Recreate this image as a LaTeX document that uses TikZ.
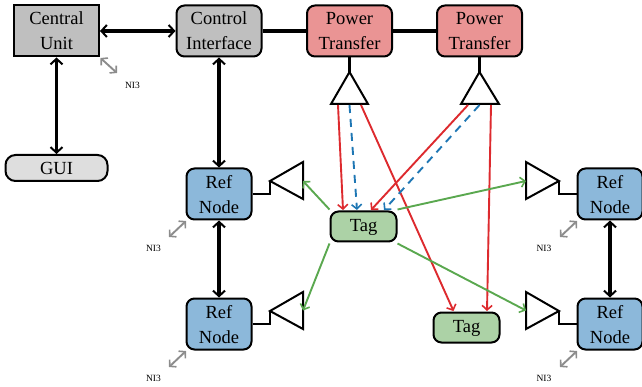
\documentclass[tikz,border=0pt]{standalone}
\usepackage{fontspec}
\usetikzlibrary{arrows.meta}
\setmainfont{Liberation Serif}
\definecolor{cgray}{HTML}{BFBFBF}
\definecolor{cgui}{HTML}{DEDEDE}
\definecolor{cpow}{HTML}{EA9494}
\definecolor{cref}{HTML}{8CB8DA}
\definecolor{ctag}{HTML}{ACD2A6}
\definecolor{lred}{HTML}{DD2A2E}
\definecolor{lblue}{HTML}{1F77B4}
\definecolor{lgreen}{HTML}{5AA84F}
\definecolor{lgray}{HTML}{8C8C8C}
\tikzset{
  x=1pt,y=-1pt,
  tipA/.tip={Straight Barb[length=5.5pt,width=12pt,line width=2pt]},
  tipB/.tip={Straight Barb[length=4.5pt,width=10pt,line width=1.6pt]},
  boxbase/.style={draw=black,line width=2pt,align=center,inner sep=0pt,
    font=\fontsize{18.5}{25}\selectfont,text depth=0pt},
  bigbox/.style={boxbase,minimum width=85pt,minimum height=51pt,rounded corners=8pt},
  refbox/.style={boxbase,fill=cref,minimum width=65pt,minimum height=51pt,rounded corners=8pt},
  tagbox/.style={boxbase,fill=ctag,minimum width=66pt,minimum height=30pt,rounded corners=8pt},
  bus/.style={draw=black,line width=3.2pt},
  busarrow/.style={bus,{tipA}-{tipA}},
  stub/.style={draw=black,line width=2pt},
  antenna/.style={draw=black,line width=2pt,fill=white,line join=miter},
  rf/.style={-{tipB},line width=1.9pt},
  redrf/.style={rf,draw=lred},
  bluerf/.style={rf,draw=lblue,dash pattern=on 8pt off 6pt},
  greenrf/.style={rf,draw=lgreen},
  ni/.style={{tipB}-{tipB},draw=lgray,line width=1.9pt},
  nilabel/.style={font=\fontsize{9.5}{10}\selectfont,inner sep=0pt},
}
\begin{document}
\begin{tikzpicture}
\useasboundingbox (0,0) rectangle (642,387);
% nodes
\node[bigbox,rounded corners=0pt,fill=cgray] (cu) at (56.5,31) {Central\\Unit};
\node[bigbox,fill=cgray] (ci) at (219,31) {Control\\Interface};
\node[bigbox,fill=cpow] (p1) at (349.5,31) {Power\\Transfer};
\node[bigbox,fill=cpow] (p2) at (479.5,31) {Power\\Transfer};
\node[boxbase,fill=cgui,minimum width=102pt,minimum height=26pt,rounded corners=10pt] (gui) at (56.5,168) {GUI};
\node[refbox] (r1) at (219,194) {Ref\\Node};
\node[refbox] (r2) at (219,324) {Ref\\Node};
\node[refbox] (r3) at (610,194) {Ref\\Node};
\node[refbox] (r4) at (610,324) {Ref\\Node};
\node[tagbox,text depth=2pt,text height=12pt] (t1) at (363.5,226.5) {Tag};
\node[tagbox,text depth=2pt,text height=12pt] (t2) at (466.5,327.5) {Tag};
% antenna points
\coordinate (a1) at (349.5,72);  \coordinate (a1b) at (349.5,104);
\coordinate (a2) at (479.5,72);  \coordinate (a2b) at (479.5,104);
\coordinate (a3) at (270,181);   \coordinate (a3b) at (303,181);
\coordinate (a4) at (270,311);   \coordinate (a4b) at (303,311);
\coordinate (a5) at (559,181);   \coordinate (a5b) at (526,181);
\coordinate (a6) at (559,311);   \coordinate (a6b) at (526,311);
% backbone
\draw[busarrow] (cu.east) -- (ci.west);
\draw[busarrow] (cu.south) -- (gui.north);
\draw[busarrow] (ci.south) -- (r1.north);
\draw[busarrow] (r1.south) -- (r2.north);
\draw[busarrow] (r3.south) -- (r4.north);
\draw[bus] (ci.east) -- (p1.west);
\draw[bus] (p1.east) -- (p2.west);
\draw[bus] (p1.south) -- (a1);
\draw[bus] (p2.south) -- (a2);
% antenna stubs
\draw[stub] (r1.east|-0,194) -| (a3);
\draw[stub] (r2.east|-0,324) -| (a4);
\draw[stub] (r3.west|-0,194) -| (a5);
\draw[stub] (r4.west|-0,324) -| (a6);
% antennas
\draw[antenna] (a1) -- (331,104) -- (368,104) -- cycle;
\draw[antenna] (a2) -- (461,104) -- (499,104) -- cycle;
\draw[antenna] (a3) -- (303,162) -- (303,199) -- cycle;
\draw[antenna] (a4) -- (303,292) -- (303,329) -- cycle;
\draw[antenna] (a5) -- (526,162) -- (526,199) -- cycle;
\draw[antenna] (a6) -- (526,292) -- (526,329) -- cycle;
% red
\coordinate (s1) at (338,105); \coordinate (e1) at (343,210);
\coordinate (s2) at (361,105); \coordinate (e2) at (453.5,311);
\coordinate (s3) at (468,105); \coordinate (e3) at (371,210);
\coordinate (s4) at (491,105); \coordinate (e4) at (487,311);
\draw[redrf] (s1) -- (e1);
\draw[redrf] (s2) -- (e2);
\draw[redrf] (s3) -- (e3);
\draw[redrf] (s4) -- (e4);
% blue
\coordinate (b1s) at (349.5,105); \coordinate (b1e) at (357,210);
\coordinate (b2s) at (479.5,105); \coordinate (b2e) at (384,210);
\draw[bluerf] (b1s) -- (b1e);
\draw[bluerf] (b2s) -- (b2e);
% green
\draw[greenrf] (t1.north west) ++(0,-1) -- (a3b);
\draw[greenrf] (t1.south west) ++(0,1) -- (303,310.5);
\draw[greenrf] (t1.north east) ++(0,-1) -- (a5b);
\draw[greenrf] (t1.south east) ++(0,1) -- (526,310.5);
% NI3 markers
\coordinate (n1s) at (100.5,58); \coordinate (n1e) at (117,73);
\coordinate (n2s) at (169,237);  \coordinate (n2e) at (186,221);
\coordinate (n3s) at (169,367);  \coordinate (n3e) at (186,351);
\coordinate (n4s) at (560,237);  \coordinate (n4e) at (577,221);
\coordinate (n5s) at (560,367);  \coordinate (n5e) at (577,351);
\draw[ni] (n1s) -- (n1e);
\draw[ni] (n2s) -- (n2e);
\draw[ni] (n3s) -- (n3e);
\draw[ni] (n4s) -- (n4e);
\draw[ni] (n5s) -- (n5e);
\node[nilabel] (l1) at (132.5,85.5) {NI3};
\node[nilabel] (l2) at (153.5,248) {NI3};
\node[nilabel] (l3) at (153.5,378.5) {NI3};
\node[nilabel] (l4) at (544,248) {NI3};
\node[nilabel] (l5) at (544,378.5) {NI3};
\end{tikzpicture}
\end{document}
